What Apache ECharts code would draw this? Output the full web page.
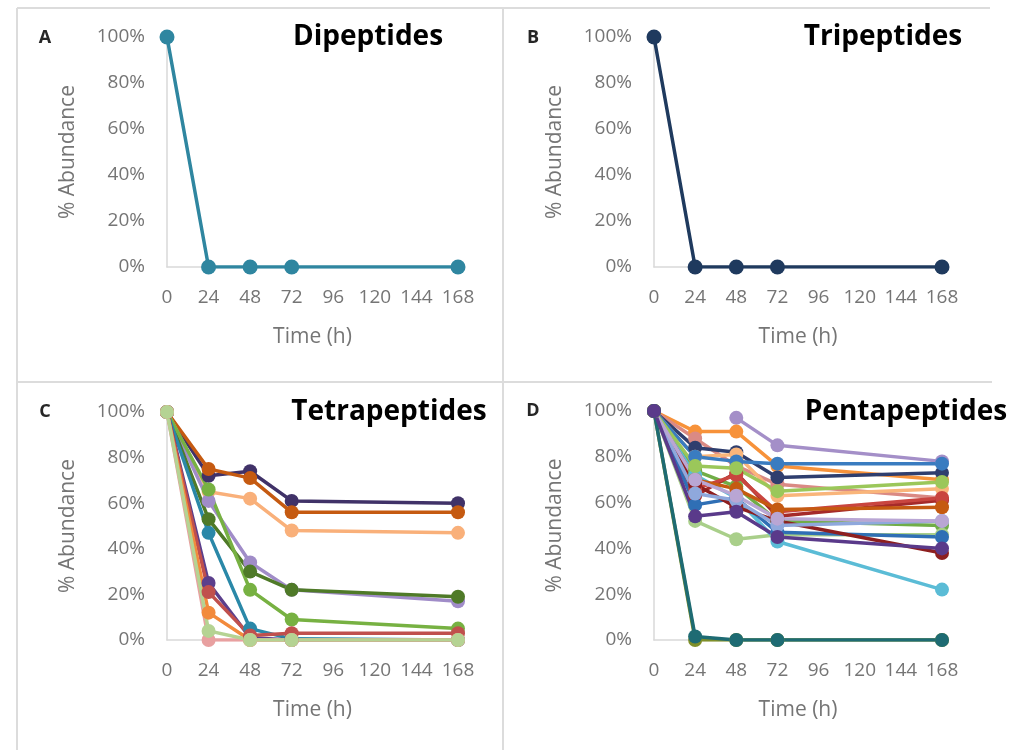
<!DOCTYPE html>
<html>
<head>
<meta charset="utf-8">
<script src="https://cdn.jsdelivr.net/npm/echarts@6/dist/echarts.min.js"></script>
<style>
  html, body { margin: 0; padding: 0; background: #ffffff; }
  #chart { width: 1036px; height: 750px; }
</style>
</head>
<body>
<div id="chart"></div>
<script>
// Sampling times (hours) and axis ticks
const hours = [0, 24, 48, 72, 168];
const xTicks = [0, 24, 48, 72, 96, 120, 144, 168];
const yTicks = [0, 20, 40, 60, 80, 100];

// Panel titles and letters
const panelTitles = ['Dipeptides', 'Tripeptides', 'Tetrapeptides', 'Pentapeptides'];
const panelLetters = ['A', 'B', 'C', 'D'];

// A: dipeptides (% abundance)
const dipeptides = [100, 0, 0, 0, 0];
const dipeptideColor = '#2f86a0';

// B: tripeptides (% abundance)
const tripeptides = [100, 0, 0, 0, 0];
const tripeptideColor = '#1f3a5e';

// C: tetrapeptides, one row per peptide
const tetrapeptides = [
  [100, 72, 74, 61, 60],
  [100, 75, 71, 56, 56],
  [100, 65, 62, 48, 47],
  [100, 61, 34, 22, 17],
  [100, 53, 30, 22, 19],
  [100, 66, 22, 9, 5],
  [100, 47, 5, 0.5, 0],
  [100, 25, 1, 0, 0],
  [100, 21, 2, 3, 3],
  [100, 12, 0, 0, 0],
  [100, 0, 0, 0, 0],
  [100, 4, 0, 0, 0]
];
const tetraColors = [
  '#403268', '#c55a11', '#f9b07a', '#a08cc8', '#4f7a28', '#77b142',
  '#2a88a8', '#5b3f8c', '#c0504d', '#f28a3c', '#e8a0a0', '#b5d393'
];

// D: pentapeptides, one row per peptide
const pentapeptides = [
  [null, null, 97, 85, 78],
  [100, 91, 91, 76, 70],
  [100, 88, 76, 68, 62],
  [100, 84, 82, 71, 73],
  [100, 80, 81, 63, 66],
  [100, 80, 78, 77, 77],
  [100, 74, 67, 52, 50],
  [100, 63, 73, 54, 61],
  [100, 52, 44, 46, 46],
  [100, 72, 62, 43, 22],
  [100, 59, 62, 47, 45],
  [100, 66, 72, 56, 62],
  [100, 70, 66, 57, 58],
  [100, 68, 58, 52, 38],
  [100, 76, 75, 65, 69],
  [100, 64, 61, 50, 52],
  [100, 70, 63, 53, 52],
  [100, 0, 0, 0, 0],
  [100, 1.5, 0, 0, 0],
  [100, 54, 56, 45, 40]
];
const pentaColors = [
  '#a48fc8', '#f7923a', '#da8a84', '#2f3e6e', '#f9b57a', '#3a7cc0',
  '#70ad47', '#a52a2a', '#a9cf8a', '#5bbcd6', '#2f6fb5', '#c9453f',
  '#c55a11', '#8e1f1f', '#9bc75a', '#8fa8dc', '#b9a6d4', '#7f8f2a',
  '#1e6b73', '#5a3a8a'
];

const grids = [
  { left: 167, top: 37, width: 291, height: 230 },
  { left: 654, top: 37, width: 288, height: 230 },
  { left: 167, top: 412, width: 291, height: 228 },
  { left: 654, top: 411, width: 288, height: 229 }
];

const tickColor = '#757575';
const axisLineColor = '#d9d9d9';
const FONT = 'Open Sans';

function pairs(values) {
  return hours.map((h, i) => [h, values[i]]);
}

function lineSeries(values, color, idx, size) {
  return {
    type: 'line',
    xAxisIndex: idx,
    yAxisIndex: idx,
    data: pairs(values),
    symbol: 'circle',
    symbolSize: size,
    showSymbol: true,
    connectNulls: false,
    lineStyle: { color: color, width: 3.5 },
    itemStyle: { color: color },
    z: 3
  };
}

const xAxes = grids.map((g, i) => ({
  type: 'value',
  gridIndex: i,
  min: xTicks[0],
  max: xTicks[xTicks.length - 1],
  interval: xTicks[1] - xTicks[0],
  name: 'Time (h)',
  nameLocation: 'middle',
  nameGap: 60,
  nameTextStyle: { color: tickColor, fontFamily: FONT, fontSize: 21 },
  axisLine: { show: true, lineStyle: { color: axisLineColor, width: 1.5 } },
  axisTick: { show: false },
  splitLine: { show: false },
  axisLabel: { color: tickColor, fontFamily: FONT, fontSize: 19, margin: 21 }
}));

const yAxes = grids.map((g, i) => ({
  type: 'value',
  gridIndex: i,
  min: yTicks[0],
  max: yTicks[yTicks.length - 1],
  interval: yTicks[1] - yTicks[0],
  name: '% Abundance',
  nameLocation: 'middle',
  nameGap: 88,
  nameTextStyle: { color: tickColor, fontFamily: FONT, fontSize: 21 },
  axisLine: { show: true, lineStyle: { color: axisLineColor, width: 1.5 } },
  axisTick: { show: false },
  splitLine: { show: false },
  axisLabel: { color: tickColor, fontFamily: FONT, fontSize: 19, margin: 22, formatter: '{value}%' }
}));

const series = [];
series.push(lineSeries(dipeptides, dipeptideColor, 0, 15));
series.push(lineSeries(tripeptides, tripeptideColor, 1, 15));
tetrapeptides.forEach((row, k) => series.push(lineSeries(row, tetraColors[k], 2, 14)));
pentapeptides.forEach((row, k) => series.push(lineSeries(row, pentaColors[k], 3, 14)));

// Panel frame lines
const frameColor = '#dcdcdc';
const frames = [
  { x1: 17, y1: 8, x2: 990, y2: 8 },
  { x1: 17, y1: 8, x2: 17, y2: 750 },
  { x1: 503, y1: 8, x2: 503, y2: 750 },
  { x1: 17, y1: 382, x2: 992, y2: 382 }
].map(s => ({
  type: 'line',
  shape: s,
  style: { stroke: frameColor, lineWidth: 2 },
  silent: true
}));

const titlePos = [
  { x: 368, y: 37 }, { x: 883, y: 37 }, { x: 389, y: 412 }, { x: 906, y: 412 }
];
const letterPos = [
  { x: 45, y: 38 }, { x: 533, y: 38 }, { x: 45, y: 412 }, { x: 533, y: 411 }
];

const titles = panelTitles.map((t, i) => ({
  type: 'text',
  x: titlePos[i].x,
  y: titlePos[i].y,
  style: {
    text: t, fill: '#000000', font: 'bold 28px "' + FONT + '"',
    textAlign: 'center', textVerticalAlign: 'middle'
  },
  z: 10
}));

const letters = panelLetters.map((t, i) => ({
  type: 'text',
  x: letterPos[i].x,
  y: letterPos[i].y,
  style: {
    text: t, fill: '#262626', font: 'bold 18px "' + FONT + '"',
    textAlign: 'center', textVerticalAlign: 'middle'
  },
  z: 10
}));

const chart = echarts.init(document.getElementById('chart'), null, { renderer: 'canvas' });
chart.setOption({
  animation: false,
  backgroundColor: '#ffffff',
  grid: grids,
  xAxis: xAxes,
  yAxis: yAxes,
  series: series,
  graphic: frames.concat(titles, letters)
});
</script>
</body>
</html>
